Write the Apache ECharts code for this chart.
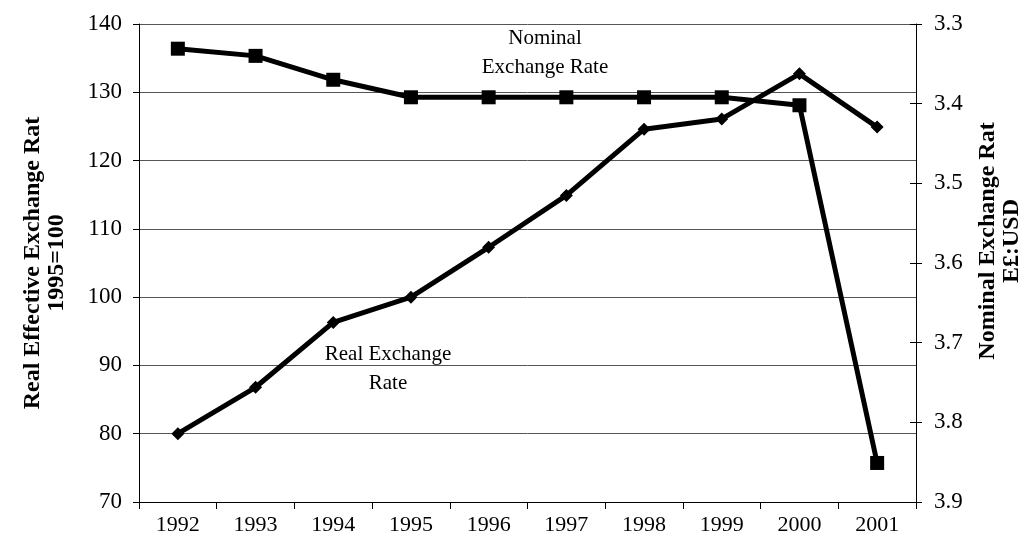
<!DOCTYPE html>
<html>
<head>
<meta charset="utf-8">
<script src="https://cdn.jsdelivr.net/npm/echarts@6/dist/echarts.min.js"></script>
<style>
  html, body { margin: 0; padding: 0; background: #fff; }
  #chart { width: 1032px; height: 549px; }
</style>
</head>
<body>
<div id="chart"></div>
<script>
// data
const years = ['1992', '1993', '1994', '1995', '1996', '1997', '1998', '1999', '2000', '2001'];
const realRate = [80, 86.8, 96.3, 100, 107.3, 114.9, 124.6, 126.1, 132.7, 124.9];  // left axis, 1995=100
const nominalRate = [3.331, 3.340, 3.370, 3.392, 3.392, 3.392, 3.392, 3.392, 3.402, 3.851]; // right axis, E£:USD

const serif = '"Liberation Serif", "DejaVu Serif", serif';

const chart = echarts.init(document.getElementById('chart'), null, { renderer: 'canvas' });

chart.setOption({
    animation: false,
    backgroundColor: '#fff',
    grid: { left: 139, right: 115, top: 24, bottom: 47 },
    xAxis: {
        type: 'category',
        data: years,
        boundaryGap: true,
        axisLine: { lineStyle: { color: '#000', width: 1 } },
        axisTick: { show: true, length: 7, lineStyle: { color: '#000' } },
        axisLabel: { color: '#000', fontFamily: serif, fontSize: 22, margin: 12 }
    },
    yAxis: [
        {
            type: 'value',
            position: 'left',
            min: 70,
            max: 140,
            interval: 10,
            name: 'Real Effective Exchange Rat\n1995=100',
            nameLocation: 'middle',
            nameRotate: 90,
            nameGap: 70,
            nameTextStyle: { color: '#000', fontFamily: serif, fontSize: 24, fontWeight: 'bold', lineHeight: 24 },
            axisLine: { show: true, lineStyle: { color: '#000' } },
            axisTick: { show: true, length: 6, lineStyle: { color: '#000' } },
            axisLabel: { color: '#000', fontFamily: serif, fontSize: 23, margin: 17 },
            splitLine: { show: true, lineStyle: { color: '#555', width: 1 } }
        },
        {
            type: 'value',
            position: 'right',
            inverse: true,
            min: 3.3,
            max: 3.9,
            interval: 0.1,
            name: 'Nominal Exchange Rat\nE£:USD',
            nameLocation: 'middle',
            nameRotate: 90,
            nameGap: 60,
            nameTextStyle: { color: '#000', fontFamily: serif, fontSize: 24, fontWeight: 'bold', lineHeight: 24, padding: [0, 0, 0, 44] },
            axisLine: { show: true, lineStyle: { color: '#000' } },
            axisTick: { show: true, length: 6, lineStyle: { color: '#000' } },
            axisLabel: { color: '#000', fontFamily: serif, fontSize: 23, margin: 18, formatter: v => v.toFixed(1) },
            splitLine: { show: false }
        },
        {
            // inner half of the crossing ticks on the right axis
            type: 'value',
            position: 'right',
            inverse: true,
            min: 3.3,
            max: 3.9,
            interval: 0.1,
            axisLine: { show: false },
            axisTick: { show: true, inside: true, length: 6, lineStyle: { color: '#000' } },
            axisLabel: { show: false },
            splitLine: { show: false }
        }
    ],
    series: [
        {
            name: 'Real Exchange Rate',
            type: 'line',
            yAxisIndex: 0,
            data: realRate,
            symbol: 'diamond',
            symbolSize: 13,
            lineStyle: { color: '#000', width: 5 },
            itemStyle: { color: '#000' }
        },
        {
            name: 'Nominal Exchange Rate',
            type: 'line',
            yAxisIndex: 1,
            data: nominalRate,
            symbol: 'rect',
            symbolSize: 14,
            lineStyle: { color: '#000', width: 5 },
            itemStyle: { color: '#000' }
        }
    ],
    graphic: [
        {
            type: 'text',
            x: 545, y: 53,
            style: {
                text: 'Nominal\nExchange Rate',
                fill: '#000', font: '21px ' + serif, lineHeight: 29,
                align: 'center', verticalAlign: 'middle'
            }
        },
        {
            type: 'text',
            x: 388, y: 369,
            style: {
                text: 'Real Exchange\nRate',
                fill: '#000', font: '21px ' + serif, lineHeight: 29,
                align: 'center', verticalAlign: 'middle'
            }
        }
    ]
});
</script>
</body>
</html>
